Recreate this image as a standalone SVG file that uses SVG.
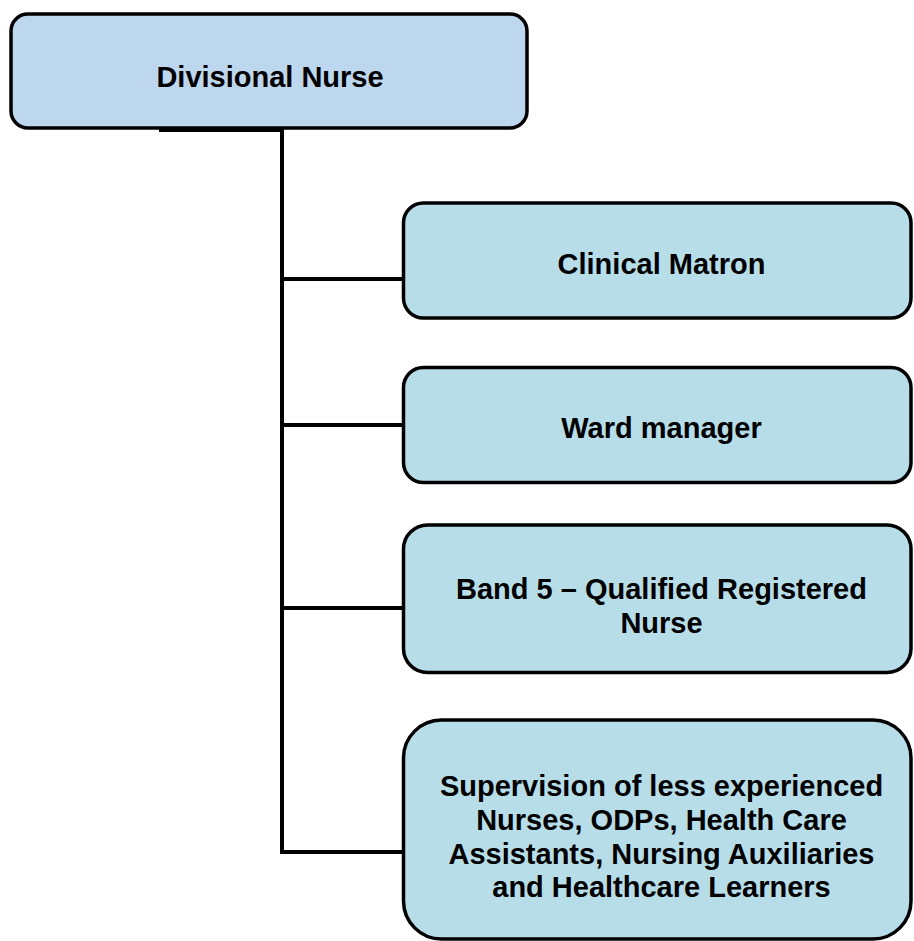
<svg xmlns="http://www.w3.org/2000/svg" width="914" height="941" viewBox="0 0 914 941">
<style>
.box{stroke:#000;stroke-width:3.5}
.top{fill:#BDD7EE}
.sub{fill:#B7DDE8}
.lbl{font-family:"Liberation Sans",Arial,sans-serif;font-weight:bold;font-size:29px;fill:#000;text-anchor:middle}
.conn{fill:none;stroke:#000;stroke-width:4}
</style>
<rect width="914" height="941" fill="#fff"/>
<g id="divisional-nurse">
<rect class="box top" x="11" y="14" width="516" height="114" rx="17" ry="17"/>
<text class="lbl" x="270" y="87">Divisional Nurse</text>
</g>
<g id="clinical-matron">
<rect class="box sub" x="403.5" y="203" width="507.5" height="115" rx="20" ry="20"/>
<text class="lbl" x="661.5" y="274">Clinical Matron</text>
</g>
<g id="ward-manager">
<rect class="box sub" x="403.5" y="367.5" width="507.5" height="115" rx="20" ry="20"/>
<text class="lbl" x="661.5" y="438">Ward manager</text>
</g>
<g id="band5">
<rect class="box sub" x="403.5" y="525" width="507.5" height="147.5" rx="24" ry="24"/>
<text class="lbl" x="661.5" y="599">Band 5 – Qualified Registered</text>
<text class="lbl" x="661.5" y="633">Nurse</text>
</g>
<g id="supervision">
<rect class="box sub" x="403.5" y="720" width="507.5" height="219" rx="38" ry="38"/>
<text class="lbl" x="661.5" y="796">Supervision of less experienced</text>
<text class="lbl" x="661.5" y="830">Nurses, ODPs, Health Care</text>
<text class="lbl" x="661.5" y="863.5">Assistants, Nursing Auxiliaries</text>
<text class="lbl" x="661.5" y="897">and Healthcare Learners</text>
</g>
<g id="connectors">
<path class="conn" d="M159,130 H282 V852 H403.5"/>
<path class="conn" d="M282,279 H403.5"/>
<path class="conn" d="M282,425 H403.5"/>
<path class="conn" d="M282,608 H403.5"/>
</g>
</svg>
